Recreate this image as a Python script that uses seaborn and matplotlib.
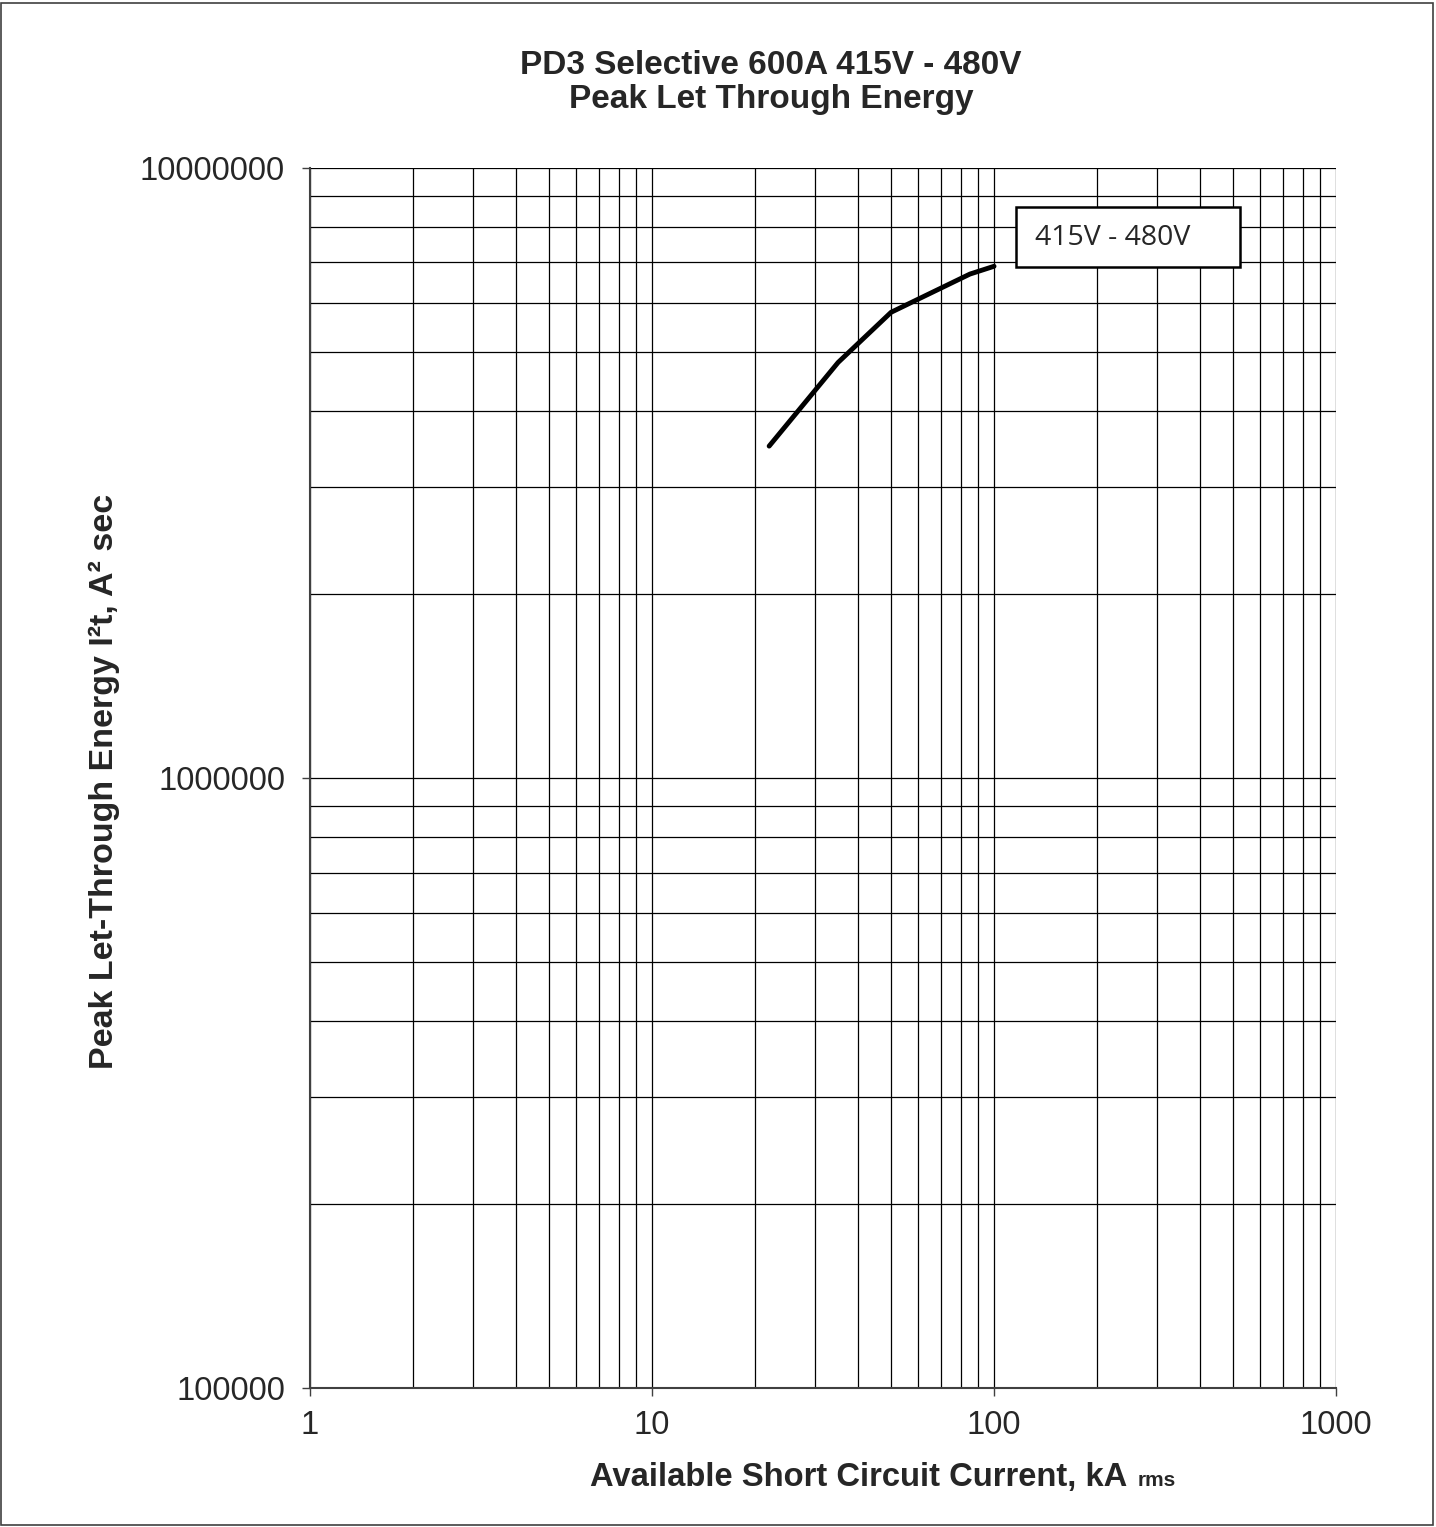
import matplotlib
matplotlib.use("Agg")
import matplotlib.pyplot as plt
import matplotlib.ticker as mticker
from matplotlib.patches import Rectangle
import pandas as pd
import seaborn as sns

# data
current_ka = [22, 35, 50, 85, 100]
energy_a2s = [3.5e6, 4.8e6, 5.8e6, 6.7e6, 6.9e6]
series_label = "415V - 480V"

TITLE_1 = "PD3 Selective 600A 415V - 480V"
TITLE_2 = "Peak Let Through Energy"
XLABEL = "Available Short Circuit Current, kA"
YLABEL = "Peak Let-Through Energy I²t, A² sec"

sns.set_style("white")
plt.rcParams["font.family"] = ["Liberation Sans", "DejaVu Sans"]

df = pd.DataFrame({"current": current_ka, "energy": energy_a2s})

fig = plt.figure(figsize=(14.36, 15.27), dpi=100)
ax = fig.add_axes([0.2159, 0.0910, 0.7145, 0.7990])

sns.lineplot(data=df, x="current", y="energy", color="black", lw=3.5, ax=ax)

ax.set_xscale("log")
ax.set_yscale("log")
ax.set_xlim(1, 1000)
ax.set_ylim(1e5, 1e7)

ax.xaxis.set_major_locator(mticker.LogLocator(base=10, numticks=10))
ax.xaxis.set_minor_locator(mticker.LogLocator(base=10, subs=range(2, 10), numticks=20))
ax.yaxis.set_major_locator(mticker.LogLocator(base=10, numticks=10))
ax.yaxis.set_minor_locator(mticker.LogLocator(base=10, subs=range(2, 10), numticks=20))
ax.xaxis.set_major_formatter(mticker.FuncFormatter(lambda v, p: f"{v:.0f}"))
ax.yaxis.set_major_formatter(mticker.FuncFormatter(lambda v, p: f"{v:.0f}"))
ax.xaxis.set_minor_formatter(mticker.NullFormatter())
ax.yaxis.set_minor_formatter(mticker.NullFormatter())

ax.grid(which="both", color="black", lw=0.9)
ax.tick_params(which="major", direction="out", length=6, width=1, color="#404040",
               labelsize=23.5, pad=12, bottom=True, left=True)
ax.tick_params(axis="x", which="major", pad=10)
ax.tick_params(which="minor", length=0)
for side in ["top", "right"]:
    ax.spines[side].set_visible(False)
for side in ["left", "bottom"]:
    ax.spines[side].set_color("#404040")
    ax.spines[side].set_linewidth(1.5)

ax.set_xlabel("")
ax.set_ylabel("")

# axis labels
fig.text(0.0725, 0.4885, YLABEL, rotation=90, ha="center", va="center",
         fontsize=24.5, fontweight="bold")
fig.text(0.4109, 0.0268, XLABEL, ha="left", va="baseline", fontsize=23.6, fontweight="bold")
fig.text(0.7925, 0.0268, "rms", ha="left", va="baseline", fontsize=15, fontweight="bold")

# title, two centred lines
fig.text(0.537, 0.9515, TITLE_1, ha="center", va="baseline", fontsize=24, fontweight="bold")
fig.text(0.537, 0.9290, TITLE_2, ha="center", va="baseline", fontsize=24, fontweight="bold")

# series label box
fig.patches.append(Rectangle((0.7075, 0.8251), 0.156, 0.0393, transform=fig.transFigure,
                             fc="white", ec="black", lw=1.8, zorder=5))
fig.text(0.7208, 0.8440, series_label, ha="left", va="center", fontsize=20.5,
         family=["Open Sans", "DejaVu Sans"], zorder=6)

# outer frame
fig.patches.append(Rectangle((0.001, 0.001), 0.997, 0.997, transform=fig.transFigure,
                             fill=False, ec="#404040", lw=1.2))

fig.savefig("out.png", dpi=100, facecolor="white")
